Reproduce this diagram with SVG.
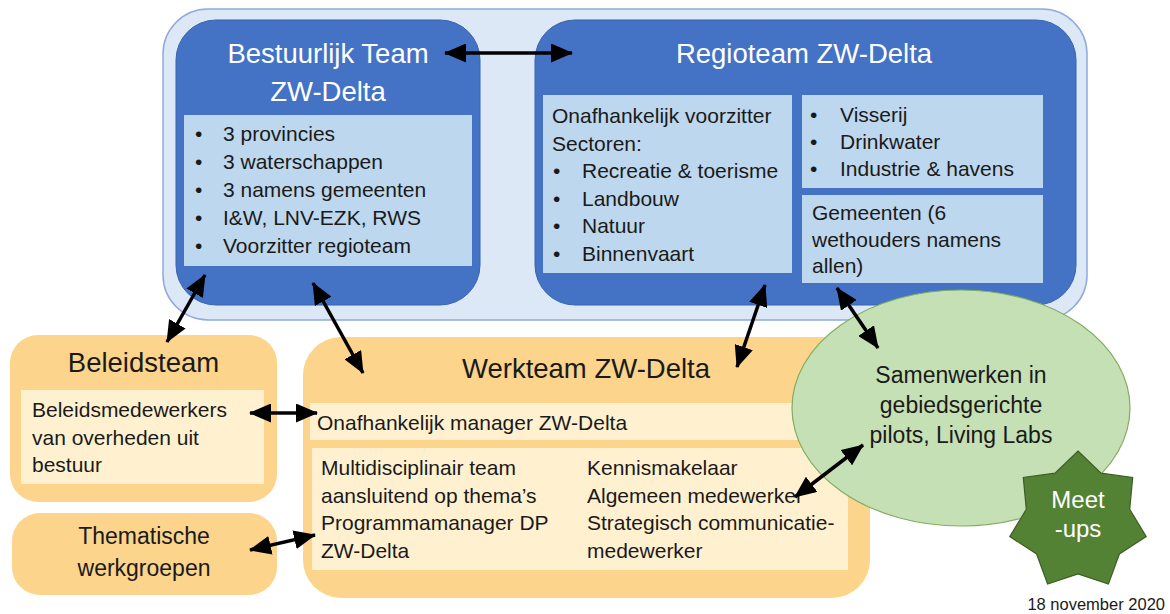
<svg xmlns="http://www.w3.org/2000/svg" width="1170" height="614" viewBox="0 0 1170 614">
  <defs>
    <style>
      text { font-family: "Liberation Sans", Arial, sans-serif; }
      .container { fill: #dce8f5; stroke: #8faadc; stroke-width: 1.5; }
      .blue { fill: #4472c4; stroke: #3a63ad; stroke-width: 1; }
      .lblue { fill: #bdd7ee; }
      .orange { fill: #fcd48c; }
      .lorange { fill: #fff1cf; }
      .title-w { fill: #ffffff; font-size: 27.5px; text-anchor: middle; }
      .title-d { fill: #1a1a1a; font-size: 27.5px; text-anchor: middle; }
      .body { fill: #1a1a1a; font-size: 21px; }
      .mid { fill: #1a1a1a; font-size: 23px; text-anchor: middle; }
      .conn { stroke: #000000; stroke-width: 3.5; fill: none; marker-start: url(#ah); marker-end: url(#ah); }
    </style>
    <marker id="ah" markerUnits="userSpaceOnUse" markerWidth="22" markerHeight="19" refX="21" refY="9.5" orient="auto-start-reverse">
      <path d="M0,0 L22,9.5 L0,19 z" fill="#000000"/>
    </marker>
  </defs>

  <g id="bestuur-container">
    <rect class="container" x="163" y="9" width="924" height="311" rx="45" ry="45"/>
  </g>

  <g id="bestuurlijk-team">
    <rect class="blue" x="176" y="20" width="304" height="285" rx="40" ry="40"/>
    <text class="title-w" x="328" y="63">Bestuurlijk Team</text>
    <text class="title-w" x="328" y="101">ZW-Delta</text>
    <rect class="lblue" x="184" y="115" width="288" height="151"/>
    <g class="body">
      <text x="195" y="141">•</text><text x="223" y="141">3 provincies</text>
      <text x="195" y="169">•</text><text x="223" y="169">3 waterschappen</text>
      <text x="195" y="197">•</text><text x="223" y="197">3 namens gemeenten</text>
      <text x="195" y="225">•</text><text x="223" y="225">I&amp;W, LNV-EZK, RWS</text>
      <text x="195" y="253">•</text><text x="223" y="253">Voorzitter regioteam</text>
    </g>
  </g>

  <g id="regioteam">
    <rect class="blue" x="535" y="20" width="541" height="285" rx="40" ry="40"/>
    <text class="title-w" x="804" y="63">Regioteam ZW-Delta</text>
    <rect class="lblue" x="543" y="95" width="249" height="178"/>
    <g class="body">
      <text x="552" y="123">Onafhankelijk voorzitter</text>
      <text x="552" y="150.5">Sectoren:</text>
      <text x="553" y="178">•</text><text x="582" y="178">Recreatie &amp; toerisme</text>
      <text x="553" y="205.5">•</text><text x="582" y="205.5">Landbouw</text>
      <text x="553" y="233">•</text><text x="582" y="233">Natuur</text>
      <text x="553" y="260.5">•</text><text x="582" y="260.5">Binnenvaart</text>
    </g>
    <rect class="lblue" x="802" y="95" width="241" height="93"/>
    <g class="body">
      <text x="810" y="122">•</text><text x="840" y="122">Visserij</text>
      <text x="810" y="149">•</text><text x="840" y="149">Drinkwater</text>
      <text x="810" y="176">•</text><text x="840" y="176">Industrie &amp; havens</text>
    </g>
    <rect class="lblue" x="802" y="195" width="241" height="88"/>
    <g class="body">
      <text x="812" y="220">Gemeenten (6</text>
      <text x="812" y="247">wethouders namens</text>
      <text x="812" y="273">allen)</text>
    </g>
  </g>

  <g id="beleidsteam">
    <rect class="orange" x="10" y="335" width="267" height="167" rx="28" ry="28"/>
    <text class="title-d" x="143.5" y="372">Beleidsteam</text>
    <rect class="lorange" x="21" y="390" width="243" height="94"/>
    <g class="body">
      <text x="32" y="417">Beleidsmedewerkers</text>
      <text x="32" y="445">van overheden uit</text>
      <text x="32" y="472">bestuur</text>
    </g>
  </g>

  <g id="thematische-werkgroepen">
    <rect class="orange" x="12" y="513" width="265" height="82" rx="28" ry="28"/>
    <text class="mid" x="144" y="544">Thematische</text>
    <text class="mid" x="144" y="576">werkgroepen</text>
  </g>

  <g id="werkteam">
    <rect class="orange" x="303" y="337" width="567" height="261" rx="38" ry="38"/>
    <text class="title-d" x="586" y="378">Werkteam ZW-Delta</text>
    <rect class="lorange" x="310" y="403" width="540" height="37"/>
    <text class="body" x="317" y="430">Onafhankelijk manager ZW-Delta</text>
    <rect class="lorange" x="312" y="448" width="536" height="122"/>
    <g class="body">
      <text x="321" y="475">Multidisciplinair team</text>
      <text x="321" y="502.5">aansluitend op thema’s</text>
      <text x="321" y="530">Programmamanager DP</text>
      <text x="321" y="557.5">ZW-Delta</text>
      <text x="587" y="475">Kennismakelaar</text>
      <text x="587" y="502.5">Algemeen medewerker</text>
      <text x="587" y="530">Strategisch communicatie-</text>
      <text x="587" y="557.5">medewerker</text>
    </g>
  </g>

  <g id="samenwerken">
    <ellipse cx="961" cy="408" rx="169" ry="118" fill="#c5e0b4" stroke="#82ad62" stroke-width="1.2"/>
    <text class="mid" x="961" y="383">Samenwerken in</text>
    <text class="mid" x="961" y="413">gebiedsgerichte</text>
    <text class="mid" x="961" y="443">pilots, Living Labs</text>
  </g>

  <g id="meet-ups">
    <polygon points="1078,451 1101,473.2 1132.7,477.4 1129.7,509.2 1146.2,536.6 1119.4,554 1108.4,584.1 1078,574 1047.6,584.1 1036.6,554 1009.8,536.6 1026.3,509.2 1023.3,477.4 1055,473.2" fill="#548235" stroke="#3b5e25" stroke-width="1.2"/>
    <text x="1078" y="508" fill="#ffffff" font-size="24" text-anchor="middle">Meet</text>
    <text x="1078" y="537" fill="#ffffff" font-size="24" text-anchor="middle">-ups</text>
  </g>

  <g id="connectors">
    <line class="conn" x1="445" y1="53" x2="572" y2="53"/>
    <line class="conn" x1="205" y1="275" x2="167" y2="342"/>
    <line class="conn" x1="313" y1="283" x2="363" y2="373"/>
    <line class="conn" x1="765" y1="285" x2="737" y2="367"/>
    <line class="conn" x1="837" y1="288" x2="878" y2="348"/>
    <line class="conn" x1="250" y1="413" x2="317" y2="413"/>
    <line class="conn" x1="250" y1="550" x2="315" y2="535"/>
    <line class="conn" x1="795" y1="497" x2="863" y2="445"/>
  </g>

  <g id="date">
    <text x="1165" y="610" fill="#1a1a1a" font-size="16.5" text-anchor="end">18 november 2020</text>
  </g>
</svg>
